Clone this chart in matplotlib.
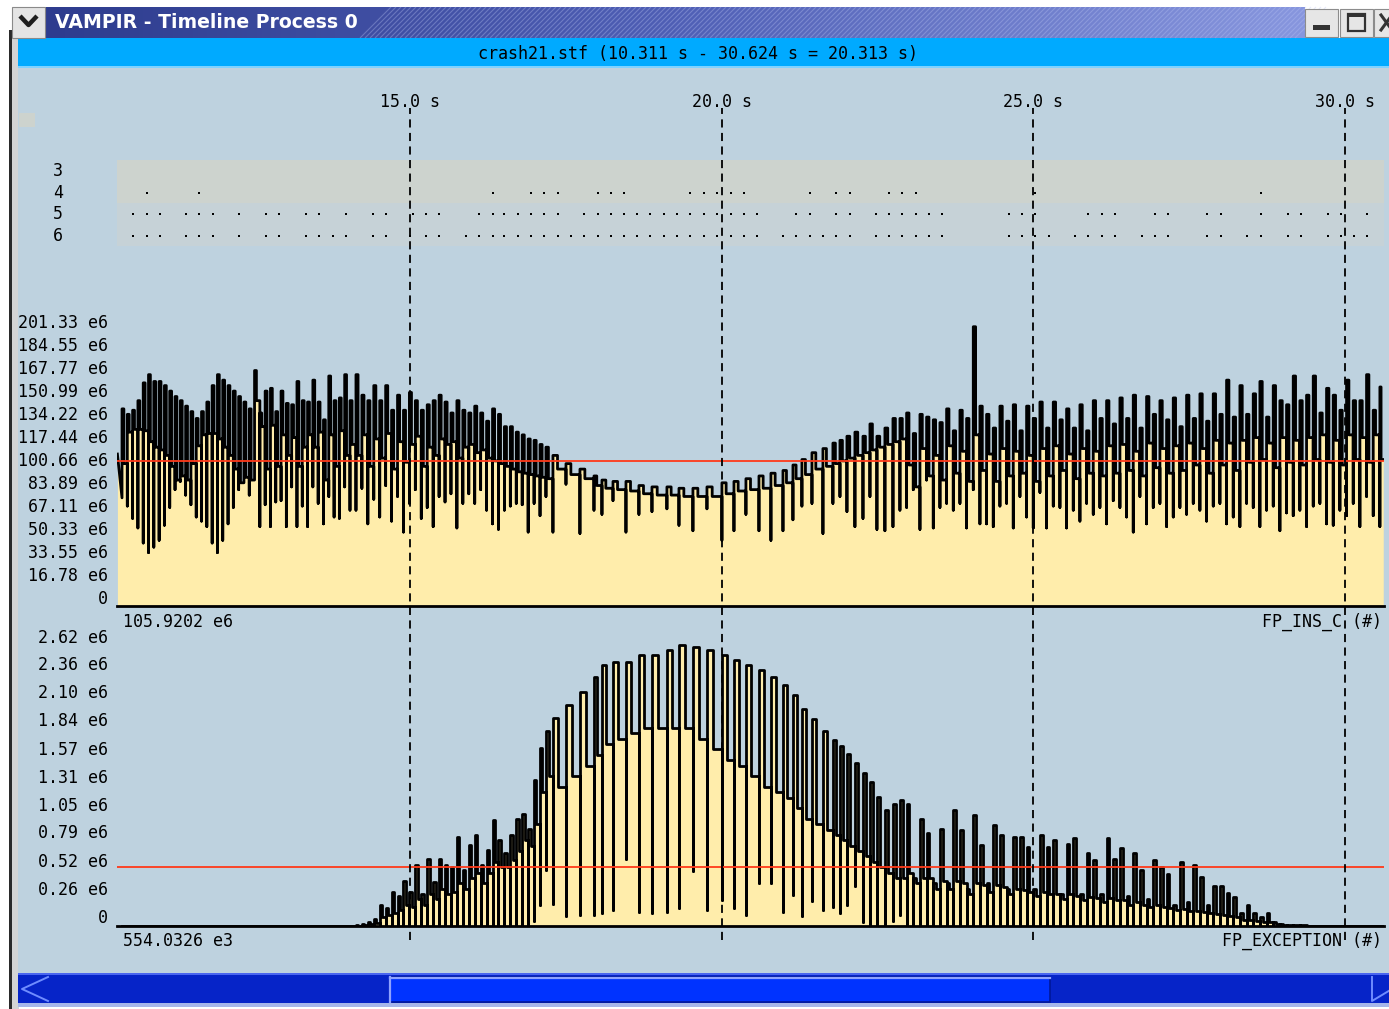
import numpy as np
import matplotlib
matplotlib.use('Agg')
import matplotlib.pyplot as plt
from matplotlib.patches import Rectangle
from matplotlib.collections import LineCollection
from matplotlib.colors import LinearSegmentedColormap
from matplotlib.transforms import ScaledTranslation, blended_transform_factory

W, H = 1389, 1009
t_start, t_end = 10.311, 30.624

# ---------------- data read off the timeline ----------------
# start time of each iteration (s); fast phase, slow phase, fast phase
iter_t = np.concatenate([
    np.linspace(10.385, 14.041, 44),
    np.linspace(14.137, 17.184, 33),
    [17.296, 17.505, 17.729, 17.954, 18.082, 18.259, 18.467, 18.675, 18.884, 19.124,
     19.317, 19.541, 19.766, 20.006, 20.199, 20.391, 20.600, 20.792, 20.985, 21.145,
     21.289, 21.450, 21.626, 21.786, 21.899, 22.011, 22.139, 22.268, 22.380, 22.492,
     22.620, 22.749, 22.861],
    np.linspace(22.968, 30.558, 72),
])
t_last = 30.612

# FP_INS_C (e6): peak, level after the peak, dip at iteration start
ins_lead = 111
ins_peak = [
    144, 140, 143, 150, 163, 169, 164, 164, 161, 157, 153, 150, 146, 142, 137, 142, 149, 161, 169, 165,
    161, 157, 153, 149, 144, 172, 141, 157, 159, 142, 157, 148, 147, 164, 150, 149, 165, 149, 136, 168,
    150, 152, 169, 150,
    169, 154, 150, 161, 150, 161, 143, 154, 143, 156, 150, 143, 147, 150, 154, 149, 141, 150, 143, 141,
    146, 141, 135, 144, 140, 131, 131, 127, 125, 122, 121, 118, 116,
    110, 104, 100, 95, 92, 91, 91, 88, 87, 87, 86, 86, 87, 90, 91, 93, 95, 97, 99, 103,
    107, 112, 115, 119, 121, 124, 127, 124, 133, 124, 130, 137, 137,
    141, 126, 140, 138, 136, 134, 144, 128, 143, 137, 204, 146, 140, 130, 146, 135, 147, 128, 146, 137,
    149, 130, 149, 136, 144, 130, 147, 128, 150, 137, 150, 133, 152, 137, 154, 130, 153, 140, 150, 136,
    152, 131, 154, 137, 155, 135, 155, 140, 165, 138, 161, 140, 155, 164, 138, 161, 150, 147, 168, 150,
    154, 168, 141, 159, 154, 143, 165, 150, 150, 169, 143, 160,
]
ins_shoulder = [
    104, 127, 129, 129, 128, 120, 116, 114, 110, 102, 92, 95, 92, 104, 117, 125, 126, 126, 122, 116,
    110, 100, 90, 94, 92, 150, 131, 100, 132, 102, 125, 110, 123, 102, 116, 125, 116, 127, 92, 125,
    102, 128, 110, 118,
    110, 125, 102, 122, 108, 126, 100, 120, 105, 118, 124, 102, 116, 110, 122, 118, 120, 108, 116, 118,
    112, 114, 108, 106, 104, 102, 100, 98, 97, 96, 95, 94, 93,
    100, 96, 93, 88, 86, 85, 84, 82, 81, 81, 80, 80, 80, 82, 84, 85, 86, 88, 90, 93,
    96, 100, 102, 104, 106, 108, 110, 112, 114, 116, 118, 120, 122,
    103, 87, 115, 95, 110, 92, 117, 97, 113, 91, 125, 99, 111, 91, 115, 95, 113, 97, 110, 91,
    115, 95, 117, 99, 111, 93, 115, 97, 113, 95, 117, 97, 118, 99, 113, 95, 119, 101, 115, 97,
    117, 99, 119, 103, 115, 97, 121, 103, 119, 99, 121, 105, 123, 107, 119, 101, 123, 105, 121, 103,
    123, 107, 125, 105, 121, 103, 125, 107, 123, 105, 125, 107,
]
ins_trough = [
    79, 73, 64, 57, 46, 39, 43, 48, 59, 72, 85, 91, 81, 74, 65, 62, 58, 46, 39, 48,
    60, 72, 85, 90, 81, 100, 58, 74, 58, 76, 77, 58, 87, 58, 73, 58, 87, 75, 60, 80,
    65, 64, 87, 70,
    70, 86, 60, 78, 65, 88, 62, 80, 54, 75, 85, 64, 72, 58, 80, 76, 82, 57, 75, 82,
    75, 85, 70, 60, 56, 70, 73, 75, 74, 54, 75, 66, 80,
    54, 89, 53, 70, 67, 77, 54, 67, 69, 71, 59, 55, 71, 48, 55, 67, 55, 48, 55, 63,
    73, 75, 53, 75, 80, 69, 58, 64, 80, 56, 55, 58, 70,
    72, 85, 56, 92, 57, 72, 75, 70, 75, 57, 85, 60, 60, 58, 73, 75, 57, 80, 65, 57,
    83, 57, 73, 72, 57, 70, 62, 75, 67, 72, 60, 77, 72, 65, 54, 80, 60, 72, 75, 58,
    65, 72, 67, 75, 70, 62, 73, 75, 60, 65, 58, 75, 72, 58, 70, 73, 55, 68, 66, 70,
    58, 73, 75, 60, 59, 70, 66, 75, 58, 80, 66, 58,
]
ins_avg = 105.9202          # e6
ins_ticks = [0, 16.78, 33.55, 50.33, 67.11, 83.89, 100.66, 117.44, 134.22, 150.99, 167.77, 184.55, 201.33]

# FP_EXCEPTION (e6)
exc_peak = [0] * 44 + [
    0.01, 0.02, 0.04, 0.07, 0.20, 0.17, 0.32, 0.28, 0.42, 0.32, 0.57, 0.30, 0.63, 0.41, 0.63, 0.57,
    0.55, 0.83, 0.52, 0.76, 0.85, 0.57, 0.71, 0.99, 0.80, 0.68, 0.85, 1.00, 1.05, 0.91, 1.36, 1.66, 1.82,
    1.94, 2.07, 2.19, 2.33, 2.44, 2.47, 2.47, 2.53, 2.53, 2.58, 2.63, 2.61, 2.58, 2.53, 2.49, 2.44,
    2.39, 2.33, 2.25, 2.16, 2.03, 1.93, 1.82, 1.74, 1.68, 1.61, 1.52, 1.43, 1.35, 1.21, 1.08, 1.14, 1.18,
    1.14, 0.45, 1.00, 0.87, 0.40, 0.91, 0.40, 1.08, 0.90, 0.35, 1.04, 0.76, 0.40, 0.94, 0.85, 0.35,
    0.83, 0.83, 0.74, 0.35, 0.85, 0.74, 0.80, 0.30, 0.77, 0.82, 0.30, 0.68, 0.62, 0.30, 0.82, 0.63,
    0.73, 0.28, 0.68, 0.52, 0.25, 0.62, 0.55, 0.49, 0.20, 0.60, 0.22, 0.57, 0.46, 0.20, 0.37, 0.37,
    0.31, 0.27, 0.12, 0.20, 0.12, 0.08, 0.12, 0.04, 0.02, 0.01, 0.01, 0.01,
] + [0] * 12
exc_shoulder = [0] * 44 + [
    0.00, 0.01, 0.02, 0.03, 0.08, 0.10, 0.12, 0.15, 0.20, 0.18, 0.25, 0.20, 0.30, 0.25, 0.35, 0.30,
    0.32, 0.40, 0.35, 0.45, 0.50, 0.40, 0.50, 0.60, 0.55, 0.55, 0.62, 0.70, 0.80, 0.75, 0.95, 1.25, 1.40,
    1.30, 1.40, 1.50, 1.60, 1.70, 1.75, 1.80, 1.85, 1.85, 1.85, 1.85, 1.75, 1.65, 1.55, 1.50, 1.40,
    1.30, 1.25, 1.20, 1.10, 1.00, 0.95, 0.90, 0.85, 0.80, 0.75, 0.70, 0.65, 0.60, 0.55, 0.50, 0.45, 0.45,
    0.50, 0.40, 0.45, 0.45, 0.35, 0.42, 0.35, 0.42, 0.40, 0.30, 0.40, 0.38, 0.32, 0.38, 0.36, 0.30,
    0.35, 0.34, 0.32, 0.28, 0.32, 0.30, 0.30, 0.25, 0.30, 0.28, 0.24, 0.27, 0.26, 0.22, 0.26, 0.24,
    0.24, 0.20, 0.22, 0.20, 0.18, 0.20, 0.18, 0.17, 0.15, 0.16, 0.14, 0.14, 0.13, 0.12, 0.11, 0.10,
    0.09, 0.08, 0.06, 0.06, 0.05, 0.04, 0.04, 0.02, 0.01, 0.01, 0.01, 0.005,
] + [0] * 12
exc_trough = [0] * 74 + [0.05, 0.20, 0.52] + [
    0.21, 0.09, 0.10, 0.10, 0.12, 0.15, 0.63, 0.13, 0.12, 0.13, 0.17, 0.51, 0.15, 0.24, 0.17, 0.10,
    0.40, 0.40, 0.13, 0.29, 0.09, 0.23, 0.15, 0.18, 0.12, 0.20, 0.37, 0.04, 0.01, 0.00, 0.00, 0.05, 0.10,
] + [0] * 72
exc_avg = 554.0326          # e3
exc_ticks = [0, 0.26, 0.52, 0.79, 1.05, 1.31, 1.57, 1.84, 2.10, 2.36, 2.62]

# process rows and message dots (s)
proc_rows = [3, 4, 5, 6]
dots_4 = [10.786, 11.620, 16.334, 16.943, 17.152, 17.376, 18.018, 18.226, 18.435, 19.493, 19.718,
          19.926, 20.151, 20.359, 21.417, 21.834, 22.059, 22.684, 22.893, 23.117, 25.025, 28.650]
dots_5 = [10.561, 10.786, 10.994, 11.411, 11.620, 11.844, 12.261, 12.694, 12.902, 13.335, 13.544,
          13.977, 14.410, 14.618, 15.051, 15.260, 15.468, 16.110, 16.334, 16.518, 16.735, 16.943,
          17.152, 17.376, 17.793, 18.018, 18.226, 18.435, 18.643, 18.852, 19.076, 19.285, 19.493,
          19.718, 19.926, 20.151, 20.359, 20.568, 21.193, 21.417, 21.834, 22.059, 22.476, 22.684,
          22.893, 23.117, 23.326, 23.534, 24.609, 24.817, 25.025, 25.876, 26.100, 26.308, 26.950,
          27.158, 27.784, 28.008, 28.650, 29.083, 29.291, 29.724, 29.932, 30.349]
dots_6 = [10.561, 10.786, 10.994, 11.411, 11.620, 11.844, 12.261, 12.694, 12.902, 13.335, 13.544,
          13.768, 13.977, 14.410, 14.618, 15.003, 15.260, 15.468, 15.901, 16.110, 16.334, 16.518,
          16.735, 16.943, 17.152, 17.376, 17.585, 17.793, 18.018, 18.226, 18.435, 18.643, 18.852,
          19.076, 19.285, 19.493, 19.718, 19.926, 20.151, 20.359, 20.568, 20.985, 21.193, 21.417,
          21.626, 21.834, 22.059, 22.476, 22.684, 22.893, 23.117, 23.326, 23.534, 24.609, 24.817,
          25.025, 25.250, 25.667, 25.876, 26.100, 26.308, 26.741, 26.950, 27.158, 27.784, 28.008,
          28.425, 28.650, 29.083, 29.291, 29.724, 29.932, 30.141, 30.349]
time_ticks = [15.0, 20.0, 25.0, 30.0]

# ---------------- style ----------------
BG = '#bed2df'
FILL = '#ffedab'
BAND = '#cdd3ce'
RED = '#ff3a1a'
MONO = 'DejaVu Sans Mono'
FS = 12


def steps(t, peak, shoulder, trough, t_stop, hold, lead=None):
    edges = list(t) + [t_stop]
    ts, vs = [], []
    if lead is not None:
        ts += [t_start]
        vs += [lead]
    for i in range(len(t)):
        t0, t1 = edges[i], edges[i + 1]
        tm = t0 + hold * (t1 - t0)
        ts += [t0, t0, tm, tm, t1]
        vs += [trough[i], peak[i], peak[i], shoulder[i], shoulder[i]]
    return np.array(ts), np.array(vs)


fig = plt.figure(figsize=(W / 100, H / 100), dpi=100)
fig.patch.set_facecolor('white')


def px_axes(x0, y0, x1, y1):
    a = fig.add_axes([x0 / W, 1 - y1 / H, (x1 - x0) / W, (y1 - y0) / H])
    a.set_facecolor('none')
    return a


# ---------------- window chrome ----------------
bg = fig.add_axes([0, 0, 1, 1])
bg.axis('off')
bg.add_patch(Rectangle((9, 30), 10, H, fc='#d4d4d4', ec='none'))
bg.add_patch(Rectangle((9, 30), 2.5, H, fc='#2a2a2a', ec='none'))
tb = LinearSegmentedColormap.from_list('tb', ['#2e3c8e', '#4f5fb5', '#8796de'])
bg.imshow(np.linspace(0, 1, 256)[None, :], cmap=tb, extent=(45, 1305, 38, 7), aspect='auto', zorder=1)
hatch = [[(x, 38), (x + 31, 7)] for x in np.arange(360, 1300, 5)]
bg.add_collection(LineCollection(hatch, colors='#b8c2f2', linewidths=0.8, alpha=0.35, zorder=2))
bg.add_patch(Rectangle((12, 7), 33, 31, fc='#e4e4e4', ec='#8a8a8a', lw=0.8, zorder=3))
bg.plot([20, 28.5, 37], [16, 25, 16], color='#1e1e1e', lw=3.2, solid_capstyle='butt', zorder=4)
bg.text(55, 23, 'VAMPIR - Timeline Process 0', color='white', fontsize=13.6, fontweight='bold',
        va='center', ha='left', zorder=4)
for x0 in (1305, 1340, 1374):
    bg.add_patch(Rectangle((x0, 9), 33, 28, fc='#e6e6e6', ec='#8c8c8c', lw=0.8, zorder=3))
bg.add_patch(Rectangle((1313, 25), 17, 5, fc='#333333', ec='none', zorder=4))
bg.add_patch(Rectangle((1348, 14), 17, 17, fc='none', ec='#333333', lw=1.6, zorder=4))
bg.add_patch(Rectangle((1348, 14), 17, 3, fc='#333333', ec='none', zorder=4))
bg.plot([1381, 1392], [15, 30], color='#333333', lw=2.2, zorder=4)
bg.plot([1381, 1392], [30, 15], color='#333333', lw=2.2, zorder=4)

bg.add_patch(Rectangle((18, 38), W - 18, 29, fc='#00aaff', ec='none'))
bg.add_patch(Rectangle((18, 66), W - 18, 1.5, fc='#7fd2ff', ec='none'))
bg.text(698, 54, f'crash21.stf ({t_start:.3f} s - {t_end:.3f} s = {t_end - t_start:.3f} s)',
        family=MONO, fontsize=FS, ha='center', va='center')
bg.add_patch(Rectangle((18, 67.5), W - 18, 905.5, fc=BG, ec='none'))
bg.add_patch(Rectangle((19, 113), 16, 14, fc=BAND, ec='none'))

# scrollbar
bg.add_patch(Rectangle((18, 973), W - 18, 30, fc='#0624c8', ec='none'))
bg.add_patch(Rectangle((18, 973), W - 18, 2, fc='#4a66f0', ec='none'))
bg.add_patch(Rectangle((390, 977), 660, 25, fc='#0033ff', ec='#00179a', lw=1.2))
bg.plot([390, 1050], [977.5, 977.5], color='#8fa2ff', lw=1.6)
bg.plot([390, 390], [977, 1002], color='#8fa2ff', lw=1.6)
bg.plot([48, 22, 48], [977, 989, 1001], color='#6f8cff', lw=1.4)
bg.plot([1372, 1372, 1392], [977, 1001, 989], color='#6f8cff', lw=1.4)
bg.add_patch(Rectangle((18, 1003), W - 18, 4, fc='#a6b6ea', ec='none'))

# labels under the counter plots
bg.text(123, 622, f'{ins_avg:.4f} e6', family=MONO, fontsize=FS, ha='left', va='center')
bg.text(1382, 622, 'FP_INS_C (#)', family=MONO, fontsize=FS, ha='right', va='center')
bg.text(123, 941, f'{exc_avg:.4f} e3', family=MONO, fontsize=FS, ha='left', va='center')
bg.text(1382, 941, 'FP_EXCEPTION (#)', family=MONO, fontsize=FS, ha='right', va='center')
bg.set_xlim(0, W)
bg.set_ylim(H, 0)

X0, X1 = 117.4, 1384

# ---------------- process rows ----------------
pa = px_axes(X0, 150, X1, 255)
pa.set_xlim(t_start, t_end)
pa.set_ylim(6.876, 2.031)
pa.axis('off')
pa.axhspan(2.49, 4.48, color=BAND, lw=0)
pa.axhspan(4.48, 6.46, color='#c6d2d7', lw=0)
for row, d in ((4, dots_4), (5, dots_5), (6, dots_6)):
    pa.plot(d, [row] * len(d), 's', ms=1.7, mew=0, color='black')
lab_tr = blended_transform_factory(pa.transAxes, pa.transData) + ScaledTranslation(-0.544, 0, fig.dpi_scale_trans)
for r in proc_rows:
    pa.text(0, r, str(r), transform=lab_tr, family=MONO, fontsize=FS, ha='right', va='center')


# ---------------- counter plots ----------------
def counter(ax, ymax, peak, shoulder, trough, avg, ticks, labels, shift, hold, lead=None):
    ax.set_xlim(t_start, t_end)
    ax.set_ylim(0, ymax)
    ax.axis('off')
    ts, vs = steps(iter_t, peak, shoulder, trough, t_last, hold, lead)
    ax.fill_between(ts, vs, 0, color=FILL, lw=0, zorder=1)
    ax.plot(ts, vs, color='black', lw=2.0, zorder=2)
    ax.axhline(avg, color=RED, lw=1.3, zorder=4)
    ax.axhline(0, color='black', lw=2.0, zorder=5, clip_on=False)
    tr = blended_transform_factory(ax.transAxes, ax.transData) + ScaledTranslation(-0.094, shift, fig.dpi_scale_trans)
    for v, s in zip(ticks, labels):
        ax.text(0, v, s, transform=tr, family=MONO, fontsize=FS, ha='right', va='center')


ta = px_axes(X0, 300, X1, 606)
counter(ta, 306 / 1.369, ins_peak, ins_shoulder, ins_trough, ins_avg, ins_ticks,
        ['0'] + [f'{v:.2f} e6' for v in ins_ticks[1:]], 0.07, 0.35, lead=ins_lead)

ba = px_axes(X0, 630, X1, 926)
counter(ba, 296 / 107, exc_peak, exc_shoulder, exc_trough, exc_avg / 1000, exc_ticks,
        ['0'] + [f'{v:.2f} e6' for v in exc_ticks[1:]], 0.08, 0.4)

# ---------------- time grid ----------------
ga = px_axes(X0, 108, X1, 940)
ga.set_xlim(t_start, t_end)
ga.set_ylim(0, 1)
ga.axis('off')
gtr = blended_transform_factory(ga.transData, ga.transAxes)
for t in time_ticks:
    ga.axvline(t, color='black', lw=1.3, ls=(0, (4.5, 3)))
    ga.text(t, 1.0072, f'{t:.1f} s', transform=gtr, family=MONO, fontsize=FS, ha='center', va='center')

fig.savefig('out.png', dpi=100)
